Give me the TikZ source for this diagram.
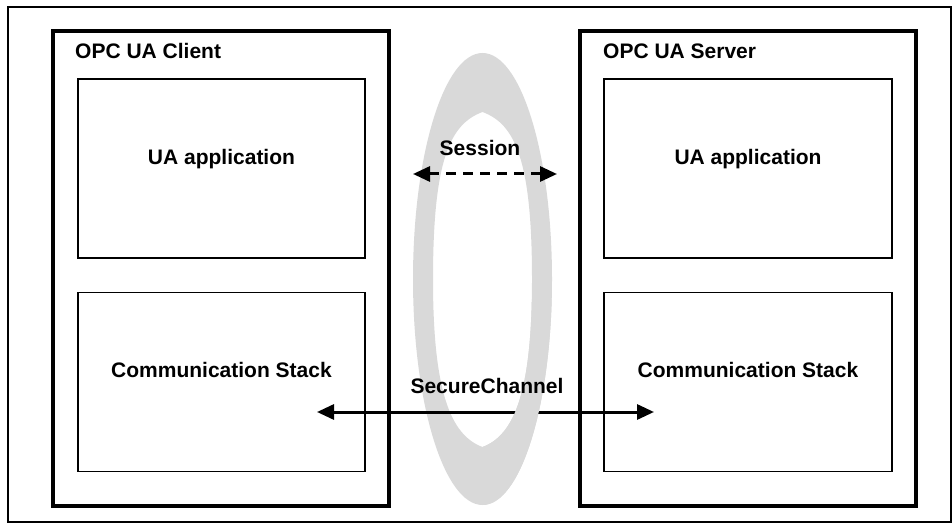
\documentclass[tikz,border=0pt]{standalone}
\usepackage{fontspec}
\setmainfont{Liberation Sans}
\usetikzlibrary{positioning, calc, arrows.meta}
\definecolor{ringgray}{RGB}{217,217,217}

\begin{document}
\begin{tikzpicture}[x=1pt, y=-1pt, node distance=5mm,
party/.style={rectangle, draw=black, line width=4pt, minimum width=336pt, minimum height=475pt},
layer/.style={rectangle, draw=black, line width=1.5pt, minimum width=287pt, minimum height=179pt},
title/.style={anchor=base west, inner sep=0pt, font=\bfseries\fontsize{21}{25}\selectfont},
lbl/.style={inner sep=0pt, font=\bfseries\fontsize{21}{25}\selectfont},
link/.style={line width=3pt, {Triangle[length=17pt, width=15pt]}-{Triangle[length=17pt, width=15pt]}}]
\useasboundingbox (0,0) rectangle (952,526);
\draw[line width=2pt] (8,7) rectangle (951,522);
% the session ring
\def\ring{(482.5,279) ellipse [x radius=69.5, y radius=226]
  (482.5,112) .. controls (515,124) and (532,160) .. (532,279.5)
  .. controls (532,390) and (515,435) .. (482.5,447)
  .. controls (450,435) and (433,390) .. (433,279.5)
  .. controls (433,160) and (450,124) .. (482.5,112) -- cycle}
\fill[ringgray, even odd rule] \ring;
% client side
\node (client) [party] at (220.5,268.5) {};
\node (clienttitle) [title] at (75,59) {OPC UA Client};
\node (capp) [layer] at (221.5,168.5) {};
\node (cstack) [layer] at (221.5,382) {};
\node [lbl] at ($(capp.center)+(0,-9)$) {UA application};
\node [lbl] at ($(cstack.center)+(0,-12)$) {Communication Stack};
% server side
\node (server) [party] at (748,268.5) {};
\node (servertitle) [title] at (603,59) {OPC UA Server};
\node (sapp) [layer, minimum width=288pt] at (748,168.5) {};
\node (sstack) [layer, minimum width=288pt] at (748,382) {};
\node [lbl] at ($(sapp.center)+(0,-9)$) {UA application};
\node [lbl] at ($(sstack.center)+(0,-12)$) {Communication Stack};
% connections
\coordinate (sesA) at (413,174);
\coordinate (sesB) at (557,174);
\coordinate (secA) at (317,412);
\coordinate (secB) at (654,412);
\draw[link] (secA) -- (secB);
\begin{scope}
\clip (482.5,300) rectangle (560,510);
\fill[ringgray, even odd rule] \ring;
\end{scope}
\draw[link, dash pattern=on 10pt off 7pt] (sesA) -- (sesB);
\node (session) [lbl] at (480,148) {Session};
\node (secure) [lbl] at (487,386) {SecureChannel};
\end{tikzpicture}
\end{document}
